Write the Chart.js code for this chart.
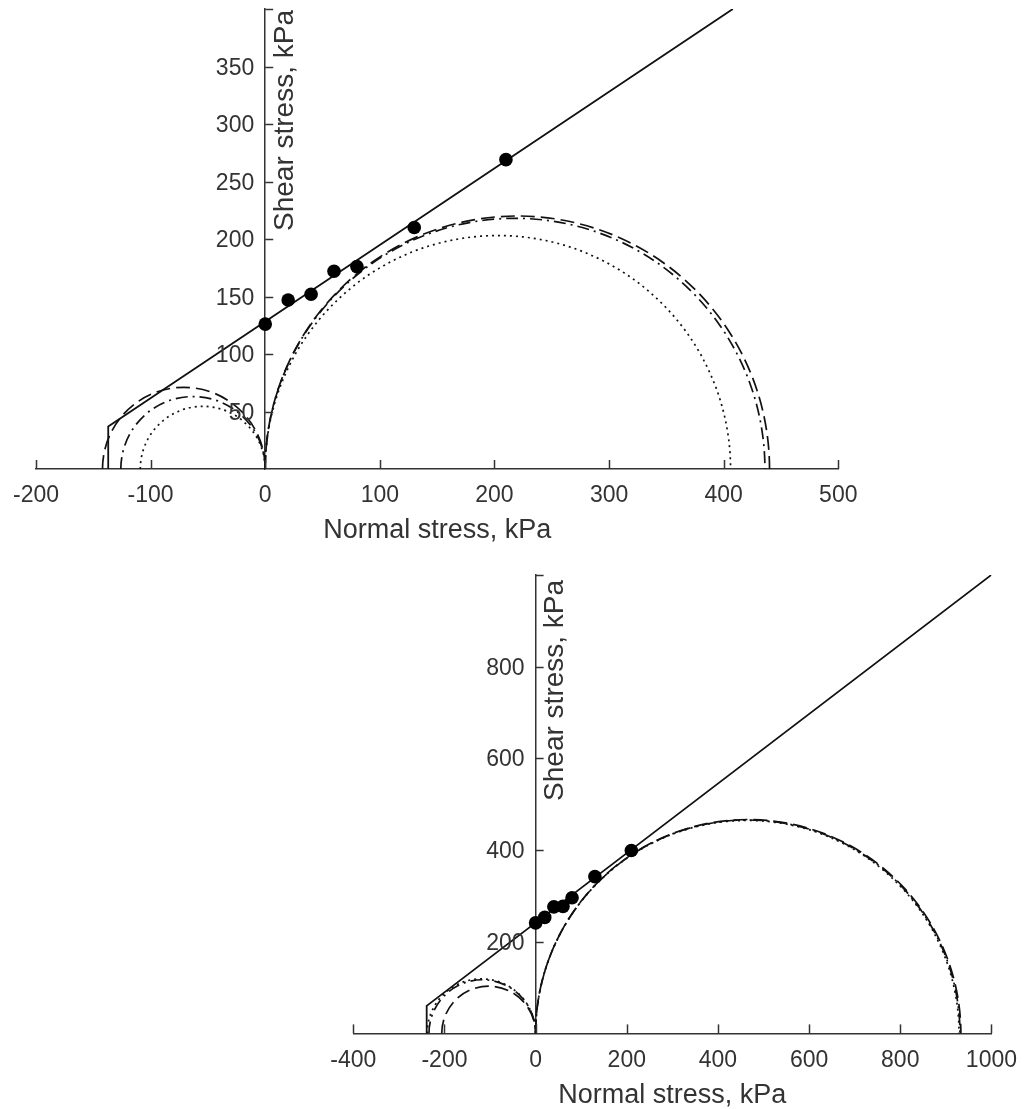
<!DOCTYPE html>
<html><head><meta charset="utf-8">
<script src="https://cdn.jsdelivr.net/npm/chart.js@4.4.1/dist/chart.umd.min.js"></script>
<style>
html,body{margin:0;padding:0;background:#fff;}
#wrap{position:relative;width:1030px;height:1109px;overflow:hidden;}
.c{position:absolute;left:0;width:1030px;}
</style></head><body>
<div id="wrap">
<div class="c" style="top:0;height:555px"><canvas id="c1"></canvas></div>
<div class="c" style="top:555px;height:554px"><canvas id="c2"></canvas></div>
</div>
<script>
// ---------- DATA ----------
// Normal stress of the test points (kPa), shared by both panels
const testNormal = [0, 20, 40, 60, 80, 130, 210];

// Upper panel
const topShear = [126, 147, 152, 172, 176, 210, 269];
const topEnvX = [-137, -137, 408];
const topEnvY = [0, 37, 400];
// Mohr circles: sigma3 and sigma1 (kPa): tensile circles then compression circles
const topSigma3 = [-142, -126, -109, 0, 0, 0];
const topSigma1 = [0, 0, 0, 440, 436, 406];
const topXTicks = [-200, -100, 0, 100, 200, 300, 400, 500];
const topYTicks = [0, 50, 100, 150, 200, 250, 300, 350, 400];
const topYLabels = ['', '50', '100', '150', '200', '250', '300', '350', ''];

// Lower panel
const botShear = [241, 253, 276, 277, 296, 342, 399];
const botEnvX = [-239, -239, 1000];
const botEnvY = [0, 60, 1000];
const botSigma3 = [-206, -234, -238, 0, 0, 0];
const botSigma1 = [0, 0, 0, 933, 931, 929];
const botXTicks = [-400, -200, 0, 200, 400, 600, 800, 1000];
const botYTicks = [0, 200, 400, 600, 800, 1000];
const botYLabels = ['', '200', '400', '600', '800', ''];

// ---------- STYLE ----------
const FONT = '"Liberation Sans", Arial, Helvetica, sans-serif';
const TEXT = '#333333';
const AXIS = '#333333';
const circleDash = [[14, 6], [12, 5, 2, 5], [2, 4], [14, 6], [12, 5, 2, 5], [2, 4]];

const mohrPlugin = {
  id: 'mohr',
  beforeDatasetsDraw(chart, args, opts) {
    const {ctx, scales: {x, y}, chartArea} = chart;
    ctx.save();
    ctx.beginPath();
    ctx.rect(chartArea.left - 2, chartArea.top - 2, chartArea.width + 4, chartArea.height + 2);
    ctx.clip();
    ctx.strokeStyle = '#111';
    ctx.lineWidth = 1.7;
    opts.s3.forEach((s3, i) => {
      const s1 = opts.s1[i];
      const c = (s1 + s3) / 2, r = (s1 - s3) / 2;
      const cx = x.getPixelForValue(c), cy = y.getPixelForValue(0);
      const rx = Math.abs(x.getPixelForValue(s1) - cx);
      const ry = Math.abs(cy - y.getPixelForValue(r));
      ctx.setLineDash(circleDash[i]);
      ctx.beginPath();
      ctx.ellipse(cx, cy, rx, ry, 0, Math.PI, 2 * Math.PI);
      ctx.stroke();
    });
    ctx.restore();
  },
  afterDraw(chart, args, opts) {
    const {ctx, scales: {x, y}, chartArea} = chart;
    ctx.save();
    ctx.strokeStyle = AXIS;
    ctx.lineWidth = 1.5;
    ctx.setLineDash([]);
    const ay = y.getPixelForValue(0);
    const ax = x.getPixelForValue(0);
    x.ticks.forEach(t => {
      const px = Math.round(x.getPixelForValue(t.value)) + 0.5;
      ctx.beginPath(); ctx.moveTo(px, ay); ctx.lineTo(px, ay - 9); ctx.stroke();
    });
    ctx.fillStyle = TEXT;
    ctx.font = '23px ' + FONT;
    ctx.textAlign = 'right';
    ctx.textBaseline = 'middle';
    y.ticks.forEach((t, i) => {
      if (t.value === 0) return;
      const py = Math.round(y.getPixelForValue(t.value)) + 0.5;
      ctx.beginPath(); ctx.moveTo(ax, py); ctx.lineTo(ax + 8, py); ctx.stroke();
      const lab = opts.yLabels[opts.yTicks.indexOf(t.value)];
      if (lab) ctx.fillText(lab, ax - 11, py + 1);
    });
    // y-axis title, right of the axis, near the top
    ctx.font = '28px ' + FONT;
    ctx.translate(ax + 20, chartArea.top + opts.titleTop);
    ctx.rotate(-Math.PI / 2);
    ctx.textAlign = 'right';
    ctx.textBaseline = 'middle';
    ctx.fillText('Shear stress, kPa', 0, 0);
    ctx.restore();
  }
};

function build(id, d) {
  const tickFont = {family: FONT, size: 23};
  return new Chart(document.getElementById(id), {
    type: 'scatter',
    data: {
      datasets: [
        {
          type: 'scatter', showLine: false,
          data: testNormal.map((v, i) => ({x: v, y: d.shear[i]})),
          pointRadius: 6.8, pointHoverRadius: 6.8,
          backgroundColor: '#000', borderWidth: 0, order: 0
        },
        {
          type: 'line',
          data: d.envX.map((v, i) => ({x: v, y: d.envY[i]})),
          borderColor: '#111', borderWidth: 1.8, pointRadius: 0,
          tension: 0, fill: false, order: 1
        }
      ]
    },
    options: {
      responsive: true, maintainAspectRatio: false, animation: false,
      events: [],
      layout: {padding: d.pad},
      plugins: {legend: {display: false}, tooltip: {enabled: false},
        mohr: {s3: d.s3, s1: d.s1, titleTop: d.titleTop, yTicks: d.yTicks, yLabels: d.yLabels}},
      scales: {
        x: {
          type: 'linear', position: 'bottom', min: d.xTicks[0], max: d.xTicks[d.xTicks.length - 1],
          afterBuildTicks: s => { s.ticks = d.xTicks.map(v => ({value: v})); },
          afterFit: s => { s.height = d.xH; },
          ticks: {font: tickFont, color: TEXT, padding: 13, maxRotation: 0, autoSkip: false,
            callback: v => String(v)},
          grid: {display: false, drawTicks: false},
          border: {display: true, color: AXIS, width: 1.5},
          title: {display: true, text: 'Normal stress, kPa', color: TEXT,
            font: {family: FONT, size: 27, lineHeight: 1}, padding: {top: 0, bottom: d.titlePad}}
        },
        y: {
          type: 'linear', position: {x: 0}, min: 0, max: d.yTicks[d.yTicks.length - 1],
          afterBuildTicks: s => { s.ticks = d.yTicks.map(v => ({value: v})); },
          afterFit: s => { s.width = 0; s.paddingTop = 0; s.paddingBottom = 0; s.paddingLeft = 0; s.paddingRight = 0; },
          ticks: {display: false},
          grid: {display: false, drawTicks: false},
          border: {display: true, color: AXIS, width: 1.5}
        }
      }
    },
    plugins: [mohrPlugin]
  });
}

build('c1', {
  shear: topShear, envX: topEnvX, envY: topEnvY, s3: topSigma3, s1: topSigma1,
  xTicks: topXTicks, yTicks: topYTicks, yLabels: topYLabels,
  pad: {left: 33.7, right: 191.7, top: 9, bottom: 0}, xH: 86, titlePad: 11, titleTop: 1
});
build('c2', {
  shear: botShear, envX: botEnvX, envY: botEnvY, s3: botSigma3, s1: botSigma1,
  xTicks: botXTicks, yTicks: botYTicks, yLabels: botYLabels,
  pad: {left: 353.3, right: 33.3, top: 19.9, bottom: 0}, xH: 75.6, titlePad: 0, titleTop: 5
});
</script>
</body></html>
